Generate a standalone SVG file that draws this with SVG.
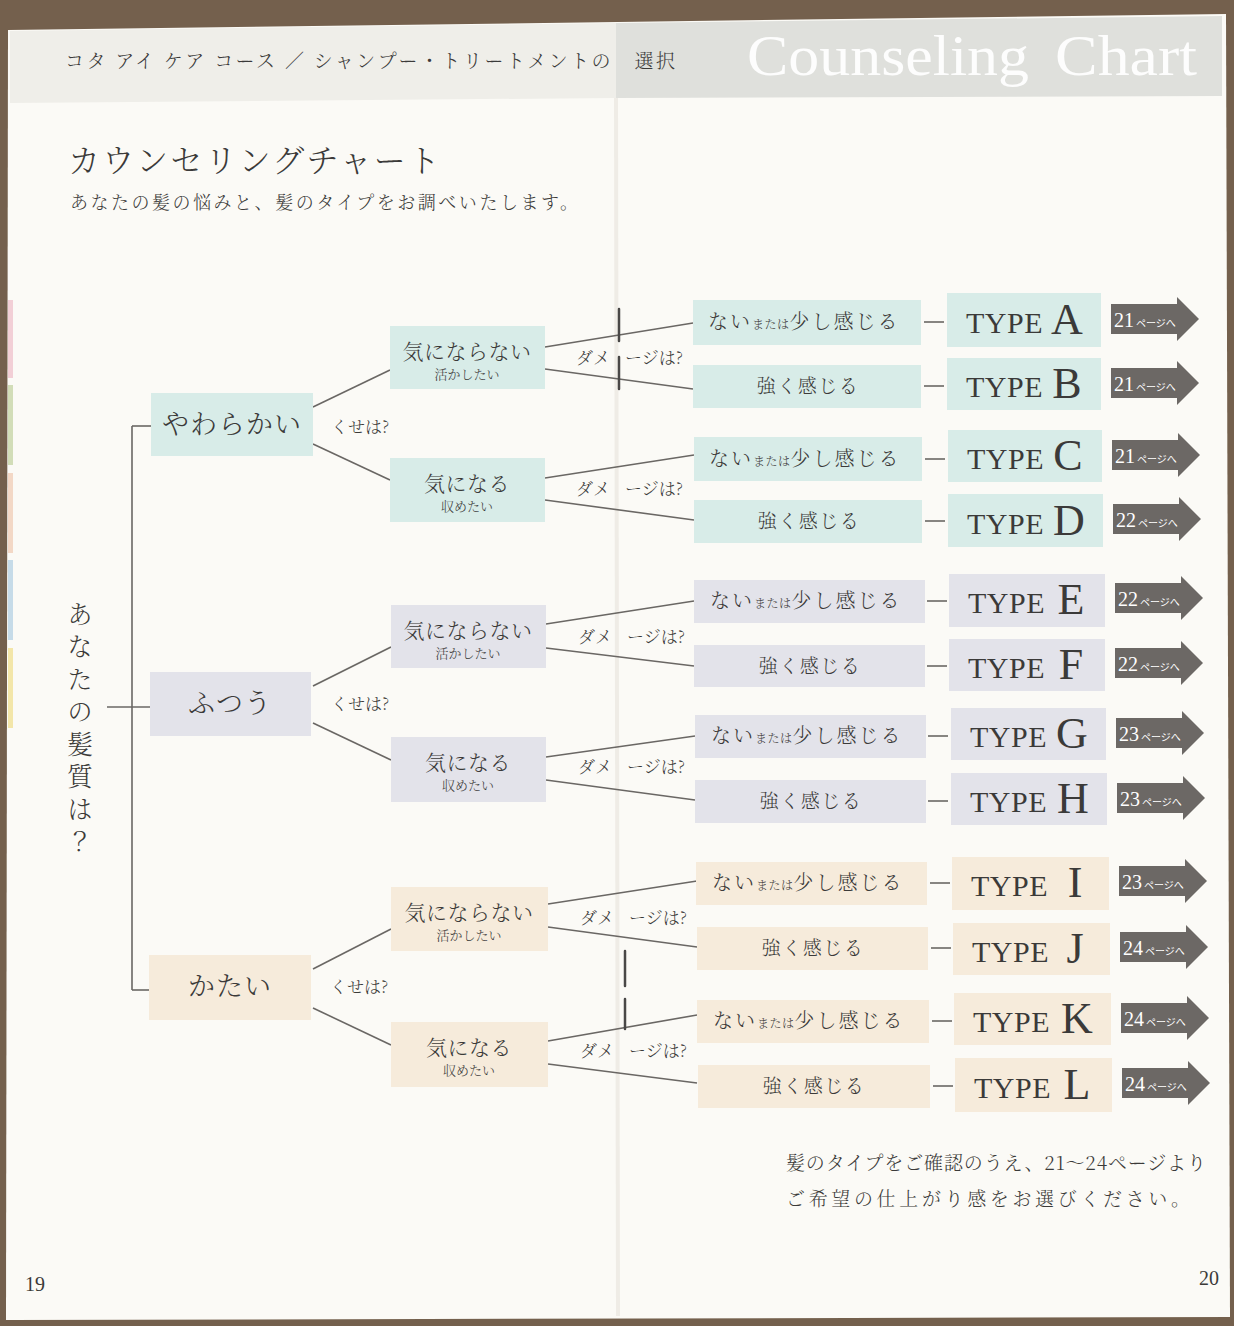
<svg xmlns="http://www.w3.org/2000/svg" xmlns:xlink="http://www.w3.org/1999/xlink" width="1234" height="1326" viewBox="0 0 1234 1326">
<defs>
<style>
.jp{font-family:"Noto Serif CJK JP","Noto Sans CJK JP",serif;fill:#3b3a39;font-weight:300}
.en{font-family:"Liberation Serif",serif;fill:#3b3a39}
.teal{fill:#d8ece8}
.lav{fill:#e3e3ea}
.beige{fill:#f6ebdb}
.l1{font-size:27px;text-anchor:middle;letter-spacing:1px}
.q{font-size:17px}
.m2{font-size:21px;text-anchor:middle;letter-spacing:0.5px}
.s2{font-size:13px;text-anchor:middle}
.m3{font-size:20px;letter-spacing:2px}
.sm{font-size:12px;letter-spacing:0.5px}
.st{font-size:19px;text-anchor:middle;letter-spacing:1.5px}
.ty{font-size:30px;letter-spacing:0.5px}
.tl{font-size:44px;text-anchor:middle}
.pg{font-family:"Liberation Serif",serif;fill:#ffffff;font-size:20px}
.pgs{font-family:"Noto Sans CJK JP",sans-serif;fill:#ffffff;font-size:10px}
.con line{stroke:#6a6764;stroke-width:1.6;fill:none}
.arr{fill:#6c6865}
.hd{font-family:"Liberation Serif",serif;font-size:58px;fill:#ffffff;fill-opacity:0.92}
</style>
<path id="arr" d="M0,-15 H66 V-22 L88,0 L66,22 V15 H0 Z"/>
</defs>

<!-- background photo surroundings -->
<rect x="0" y="0" width="1234" height="1326" fill="#74604d"/>
<polygon points="8,30 1226,14 1230,1317 6,1320" fill="#fbfaf6"/>
<!-- header band -->
<polygon points="10,31 616,23 616,98 10,103" fill="#efeee9"/>
<polygon points="616,23 1222,16 1222,96 616,98" fill="#dfe0dc"/>
<!-- gutter -->
<line x1="616" y1="98" x2="618" y2="1316" stroke="#efece6" stroke-width="4"/>
<!-- side colour strips -->
<rect x="8" y="300" width="5" height="78" fill="#f2cfd6"/>
<rect x="8" y="385" width="5" height="80" fill="#d2ddb8"/>
<rect x="8" y="473" width="5" height="80" fill="#f3d8c6"/>
<rect x="8" y="560" width="5" height="80" fill="#c6dbe8"/>
<rect x="8" y="648" width="5" height="80" fill="#f3e6a9"/>

<g id="header">
<text class="jp" x="65" y="68" font-size="19" textLength="610" lengthAdjust="spacing">コタ アイ ケア コース ／ シャンプー・トリートメントの　選択</text>
<text class="hd" x="747" y="75" textLength="282" lengthAdjust="spacingAndGlyphs">Counseling</text>
<text class="hd" x="1055" y="75" textLength="142" lengthAdjust="spacingAndGlyphs">Chart</text>
</g>

<g id="title">
<text class="jp" x="68" y="172" font-size="32" textLength="372" lengthAdjust="spacing">カウンセリングチャート</text>
<text class="jp" x="70" y="209" font-size="18" textLength="508" lengthAdjust="spacing">あなたの髪の悩みと、髪のタイプをお調べいたします。</text>
</g>

<g id="question">
<text class="jp" x="80" y="601" font-size="26" writing-mode="vertical-rl" letter-spacing="6.5">あなたの髪質は？</text>
</g>

<g id="connectors" class="con">
<line x1="132" y1="426" x2="132" y2="990"/>
<line x1="132" y1="426" x2="151" y2="426"/>
<line x1="107" y1="707" x2="150" y2="707"/>
<line x1="132" y1="990" x2="149" y2="990"/>
<!-- group 1 -->
<line x1="313" y1="407" x2="390" y2="370"/>
<line x1="313" y1="444" x2="390" y2="480"/>
<line x1="545" y1="347" x2="693" y2="323"/>
<line x1="545" y1="369" x2="693" y2="389"/>
<line x1="545" y1="478" x2="694" y2="455"/>
<line x1="545" y1="500" x2="694" y2="520"/>
<line x1="924" y1="322" x2="944" y2="322"/>
<line x1="924" y1="386" x2="944" y2="386"/>
<line x1="925" y1="459" x2="945" y2="459"/>
<line x1="925" y1="521" x2="945" y2="521"/>
<!-- group 2 -->
<line x1="313" y1="686" x2="391" y2="647"/>
<line x1="313" y1="723" x2="391" y2="760"/>
<line x1="546" y1="624" x2="694" y2="601"/>
<line x1="546" y1="648" x2="694" y2="666"/>
<line x1="546" y1="757" x2="695" y2="736"/>
<line x1="546" y1="780" x2="695" y2="800"/>
<line x1="927" y1="601" x2="947" y2="601"/>
<line x1="927" y1="666" x2="947" y2="666"/>
<line x1="928" y1="736" x2="948" y2="736"/>
<line x1="928" y1="801" x2="948" y2="801"/>
<!-- group 3 -->
<line x1="313" y1="969" x2="391" y2="929"/>
<line x1="313" y1="1008" x2="391" y2="1045"/>
<line x1="548" y1="904" x2="697" y2="881"/>
<line x1="548" y1="927" x2="697" y2="947"/>
<line x1="548" y1="1041" x2="697" y2="1015"/>
<line x1="548" y1="1064" x2="697" y2="1083"/>
<line x1="930" y1="883" x2="950" y2="883"/>
<line x1="931" y1="948" x2="951" y2="948"/>
<line x1="932" y1="1021" x2="952" y2="1021"/>
<line x1="933" y1="1086" x2="953" y2="1086"/>
</g>

<!-- staples -->
<g id="staples" stroke="#4a4847" stroke-width="2.5" stroke-linecap="round">
<line x1="619" y1="309" x2="619" y2="341"/>
<line x1="619" y1="357" x2="619" y2="389"/>
<line x1="625" y1="951" x2="625" y2="986"/>
<line x1="625" y1="999" x2="625" y2="1029"/>
</g>

<!-- ===== group 1 : やわらかい ===== -->
<g id="n-yawarakai"><rect class="teal" x="151" y="393" width="162" height="63"/><text class="jp l1" x="232" y="434">やわらかい</text></g>
<text class="jp q" x="331" y="433">くせは?</text>
<g id="n-y-kininaranai"><rect class="teal" x="390" y="326" width="155" height="63"/><text class="jp m2" x="467" y="359">気にならない</text><text class="jp s2" x="467" y="379">活かしたい</text></g>
<g id="n-y-kininaru"><rect class="teal" x="390" y="458" width="155" height="64"/><text class="jp m2" x="467" y="491">気になる</text><text class="jp s2" x="467" y="511">収めたい</text></g>
<text class="jp q" x="576" y="364">ダメ</text><text class="jp q" x="625" y="364">ージは?</text>
<text class="jp q" x="576" y="495">ダメ</text><text class="jp q" x="625" y="495">ージは?</text>

<g id="r-a"><rect class="teal" x="693" y="300" width="228" height="45"/><text class="jp m3" x="708" y="329">ない<tspan class="sm">または</tspan>少し感じる</text></g>
<g id="t-a"><rect class="teal" x="947" y="293" width="154" height="54"/><text class="en ty" x="966" y="333">TYPE</text><text class="en tl" x="1067" y="334">A</text></g>
<g id="p-a"><use href="#arr" xlink:href="#arr" class="arr" x="1111" y="319"/><text x="1114" y="327"><tspan class="pg">21</tspan><tspan class="pgs" dx="2">ページへ</tspan></text></g>

<g id="r-b"><rect class="teal" x="693" y="365" width="228" height="43"/><text class="jp st" x="808" y="393">強く感じる</text></g>
<g id="t-b"><rect class="teal" x="947" y="358" width="154" height="52"/><text class="en ty" x="966" y="397">TYPE</text><text class="en tl" x="1067" y="398">B</text></g>
<g id="p-b"><use href="#arr" xlink:href="#arr" class="arr" x="1111" y="383"/><text x="1114" y="391"><tspan class="pg">21</tspan><tspan class="pgs" dx="2">ページへ</tspan></text></g>

<g id="r-c"><rect class="teal" x="694" y="437" width="228" height="44"/><text class="jp m3" x="709" y="466">ない<tspan class="sm">または</tspan>少し感じる</text></g>
<g id="t-c"><rect class="teal" x="948" y="430" width="154" height="52"/><text class="en ty" x="967" y="469">TYPE</text><text class="en tl" x="1068" y="470">C</text></g>
<g id="p-c"><use href="#arr" xlink:href="#arr" class="arr" x="1112" y="455"/><text x="1115" y="463"><tspan class="pg">21</tspan><tspan class="pgs" dx="2">ページへ</tspan></text></g>

<g id="r-d"><rect class="teal" x="694" y="500" width="228" height="43"/><text class="jp st" x="809" y="528">強く感じる</text></g>
<g id="t-d"><rect class="teal" x="948" y="494" width="155" height="53"/><text class="en ty" x="967" y="534">TYPE</text><text class="en tl" x="1069" y="535">D</text></g>
<g id="p-d"><use href="#arr" xlink:href="#arr" class="arr" x="1113" y="519"/><text x="1116" y="527"><tspan class="pg">22</tspan><tspan class="pgs" dx="2">ページへ</tspan></text></g>

<!-- ===== group 2 : ふつう ===== -->
<g id="n-futsuu"><rect class="lav" x="150" y="672" width="161" height="64"/><text class="jp l1" x="230" y="713" letter-spacing="4">ふつう</text></g>
<text class="jp q" x="331" y="710">くせは?</text>
<g id="n-f-kininaranai"><rect class="lav" x="391" y="605" width="155" height="63"/><text class="jp m2" x="468" y="638">気にならない</text><text class="jp s2" x="468" y="658">活かしたい</text></g>
<g id="n-f-kininaru"><rect class="lav" x="391" y="737" width="155" height="65"/><text class="jp m2" x="468" y="770">気になる</text><text class="jp s2" x="468" y="790">収めたい</text></g>
<text class="jp q" x="578" y="643">ダメ</text><text class="jp q" x="627" y="643">ージは?</text>
<text class="jp q" x="578" y="773">ダメ</text><text class="jp q" x="627" y="773">ージは?</text>

<g id="r-e"><rect class="lav" x="694" y="580" width="231" height="43"/><text class="jp m3" x="710" y="608">ない<tspan class="sm">または</tspan>少し感じる</text></g>
<g id="t-e"><rect class="lav" x="949" y="574" width="156" height="53"/><text class="en ty" x="968" y="613">TYPE</text><text class="en tl" x="1071" y="614">E</text></g>
<g id="p-e"><use href="#arr" xlink:href="#arr" class="arr" x="1115" y="598"/><text x="1118" y="606"><tspan class="pg">22</tspan><tspan class="pgs" dx="2">ページへ</tspan></text></g>

<g id="r-f"><rect class="lav" x="694" y="645" width="231" height="42"/><text class="jp st" x="810" y="673">強く感じる</text></g>
<g id="t-f"><rect class="lav" x="949" y="639" width="156" height="52"/><text class="en ty" x="968" y="678">TYPE</text><text class="en tl" x="1071" y="679">F</text></g>
<g id="p-f"><use href="#arr" xlink:href="#arr" class="arr" x="1115" y="663"/><text x="1118" y="671"><tspan class="pg">22</tspan><tspan class="pgs" dx="2">ページへ</tspan></text></g>

<g id="r-g"><rect class="lav" x="695" y="715" width="231" height="43"/><text class="jp m3" x="711" y="743">ない<tspan class="sm">または</tspan>少し感じる</text></g>
<g id="t-g"><rect class="lav" x="951" y="708" width="155" height="52"/><text class="en ty" x="970" y="747">TYPE</text><text class="en tl" x="1072" y="748">G</text></g>
<g id="p-g"><use href="#arr" xlink:href="#arr" class="arr" x="1116" y="733"/><text x="1119" y="741"><tspan class="pg">23</tspan><tspan class="pgs" dx="2">ページへ</tspan></text></g>

<g id="r-h"><rect class="lav" x="695" y="780" width="231" height="43"/><text class="jp st" x="811" y="808">強く感じる</text></g>
<g id="t-h"><rect class="lav" x="951" y="773" width="156" height="52"/><text class="en ty" x="970" y="812">TYPE</text><text class="en tl" x="1073" y="813">H</text></g>
<g id="p-h"><use href="#arr" xlink:href="#arr" class="arr" x="1117" y="798"/><text x="1120" y="806"><tspan class="pg">23</tspan><tspan class="pgs" dx="2">ページへ</tspan></text></g>

<!-- ===== group 3 : かたい ===== -->
<g id="n-katai"><rect class="beige" x="149" y="955" width="162" height="65"/><text class="jp l1" x="230" y="996" letter-spacing="3">かたい</text></g>
<text class="jp q" x="330" y="993">くせは?</text>
<g id="n-k-kininaranai"><rect class="beige" x="391" y="887" width="157" height="64"/><text class="jp m2" x="469" y="920">気にならない</text><text class="jp s2" x="469" y="940">活かしたい</text></g>
<g id="n-k-kininaru"><rect class="beige" x="391" y="1022" width="157" height="65"/><text class="jp m2" x="469" y="1055">気になる</text><text class="jp s2" x="469" y="1075">収めたい</text></g>
<text class="jp q" x="580" y="924">ダメ</text><text class="jp q" x="629" y="924">ージは?</text>
<text class="jp q" x="580" y="1057">ダメ</text><text class="jp q" x="629" y="1057">ージは?</text>

<g id="r-i"><rect class="beige" x="696" y="862" width="231" height="43"/><text class="jp m3" x="712" y="890">ない<tspan class="sm">または</tspan>少し感じる</text></g>
<g id="t-i"><rect class="beige" x="952" y="857" width="157" height="53"/><text class="en ty" x="971" y="896">TYPE</text><text class="en tl" x="1075" y="897">I</text></g>
<g id="p-i"><use href="#arr" xlink:href="#arr" class="arr" x="1119" y="881"/><text x="1122" y="889"><tspan class="pg">23</tspan><tspan class="pgs" dx="2">ページへ</tspan></text></g>

<g id="r-j"><rect class="beige" x="697" y="927" width="231" height="43"/><text class="jp st" x="813" y="955">強く感じる</text></g>
<g id="t-j"><rect class="beige" x="953" y="923" width="157" height="52"/><text class="en ty" x="972" y="962">TYPE</text><text class="en tl" x="1075" y="963">J</text></g>
<g id="p-j"><use href="#arr" xlink:href="#arr" class="arr" x="1120" y="947"/><text x="1123" y="955"><tspan class="pg">24</tspan><tspan class="pgs" dx="2">ページへ</tspan></text></g>

<g id="r-k"><rect class="beige" x="697" y="1000" width="232" height="43"/><text class="jp m3" x="713" y="1028">ない<tspan class="sm">または</tspan>少し感じる</text></g>
<g id="t-k"><rect class="beige" x="954" y="993" width="157" height="52"/><text class="en ty" x="973" y="1032">TYPE</text><text class="en tl" x="1077" y="1033">K</text></g>
<g id="p-k"><use href="#arr" xlink:href="#arr" class="arr" x="1121" y="1018"/><text x="1124" y="1026"><tspan class="pg">24</tspan><tspan class="pgs" dx="2">ページへ</tspan></text></g>

<g id="r-l"><rect class="beige" x="698" y="1065" width="232" height="43"/><text class="jp st" x="814" y="1093">強く感じる</text></g>
<g id="t-l"><rect class="beige" x="955" y="1058" width="157" height="54"/><text class="en ty" x="974" y="1098">TYPE</text><text class="en tl" x="1077" y="1099">L</text></g>
<g id="p-l"><use href="#arr" xlink:href="#arr" class="arr" x="1122" y="1083"/><text x="1125" y="1091"><tspan class="pg">24</tspan><tspan class="pgs" dx="2">ページへ</tspan></text></g>

<g id="note">
<text class="jp" x="786" y="1170" font-size="19" textLength="420" lengthAdjust="spacing">髪のタイプをご確認のうえ、21〜24ページより</text>
<text class="jp" x="786" y="1206" font-size="19" textLength="404" lengthAdjust="spacing">ご希望の仕上がり感をお選びください。</text>
</g>

<g id="pages">
<text class="en" x="25" y="1291" font-size="20">19</text>
<text class="en" x="1199" y="1285" font-size="20">20</text>
</g>
</svg>
